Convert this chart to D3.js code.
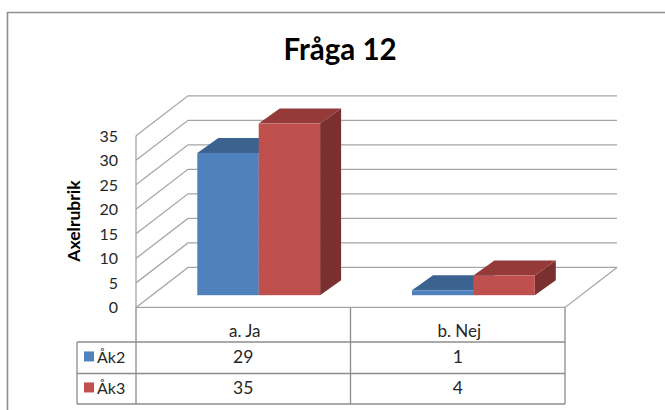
<!DOCTYPE html>
<html><head><meta charset="utf-8">
<script src="https://cdn.jsdelivr.net/npm/d3@7"></script>
<style>html,body{margin:0;padding:0;background:#fff}svg{display:block}text{font-family:Lato,"Open Sans",sans-serif}</style>
</head><body><svg id="c" width="665" height="410"></svg>
<script>
const categories = ["a. Ja", "b. Nej"];
const seriesNames = ["Åk2", "Åk3"];
const ak2 = [29, 1];
const ak3 = [35, 4];
const yTicks = [0, 5, 10, 15, 20, 25, 30, 35];
const titleText = "Fråga 12";
const axisTitle = "Axelrubrik";
const colors = [{front:"#4f81bd", top:"#3c6390", side:"#345a85"}, {front:"#c0504d", top:"#953a38", side:"#7a302e"}];
const grid = "#a6a6a6", tableLine = "#8c8c8c", ink = "#262626";

const svg = d3.select("#c");
const W = 665, H = 410;
// chart frame (left + top only; cut by the picture edge)
svg.append("path").attr("d", `M7.5,${H}V12.5H${W}`).attr("fill","none").attr("stroke","#8f8f8f").attr("stroke-width",1.6);
svg.append("text").attr("x",340).attr("y",60).attr("text-anchor","middle").attr("font-size",29.5).attr("font-weight",700).attr("fill","#000").text(titleText);

// scales
const plotL = 136, plotR = 565, depthX = 52, depthY = -40;
const y = d3.scaleLinear().domain([0,35]).range([307.4,135.8]);
const x0 = d3.scaleBand().domain(categories).range([plotL,plotR]);
const barLeft = d3.scaleOrdinal().domain(categories).range([197.3,412]);
const barW = 61.4;
const barBase = 295.2, barDX = 21, barDY = -15;
const yBar = d3.scaleLinear().domain([0,35]).range([barBase,barBase-171.6]);

// walls + gridlines
const g = svg.append("g").attr("fill","none").attr("stroke",grid).attr("stroke-width",1.3);
yTicks.forEach(t=>{
  const yy = y(t);
  g.append("path").attr("d",`M${plotL},${yy}L${plotL+depthX},${yy+depthY}H${plotR+depthX}`);
});
g.append("path").attr("d",`M${plotL},${y(35)}V${y(0)}H${plotR}L${plotR+depthX},${y(0)+depthY}`);

// y labels
svg.append("g").selectAll("text").data(yTicks).join("text")
  .attr("x",118).attr("y",d=>y(d)+6).attr("text-anchor","end").attr("font-size",16).attr("fill",ink).text(d=>d);
svg.append("text").attr("transform","translate(80,221) rotate(-90)").attr("text-anchor","middle")
  .attr("font-size",17.5).attr("font-weight",700).attr("fill","#000").text(axisTitle);

// bars
const series = [ak2, ak3];
categories.forEach((cat,ci)=>{
  series.forEach((vals,si)=>{
    const c = colors[si], l = barLeft(cat)+si*barW, r = l+barW, t = yBar(vals[ci]), b = barBase;
    const bg = svg.append("g");
    bg.append("path").attr("fill",c.side).attr("d",`M${r},${t}L${r+barDX},${t+barDY}V${b+barDY}L${r},${b}Z`);
    bg.append("path").attr("fill",c.top).attr("d",`M${l},${t}L${l+barDX},${t+barDY}H${r+barDX}L${r},${t}Z`);
    bg.append("rect").attr("x",l).attr("y",t).attr("width",barW).attr("height",b-t).attr("fill",c.front);
  });
});

// data table
const rowY = [307.4,342,373.5,404];
const legendL = 77;
const colX = categories.map(c=>x0(c)).concat(plotR);
const tg = svg.append("g").attr("fill","none").attr("stroke",tableLine).attr("stroke-width",1.3);
tg.append("path").attr("d",`M${plotL},${rowY[0]}V${rowY[3]}`);
colX.slice(1).forEach(cx=>tg.append("path").attr("d",`M${cx},${rowY[0]}V${rowY[3]}`));
tg.append("path").attr("d",`M${legendL},${rowY[1]}H${plotR}`);
tg.append("path").attr("d",`M${legendL},${rowY[2]}H${plotR}`);
tg.append("path").attr("d",`M${legendL},${rowY[3]}H${plotR}`);
tg.append("path").attr("d",`M${legendL},${rowY[1]}V${rowY[3]}`);

svg.append("g").selectAll("text").data(categories).join("text")
  .attr("x",d=>x0(d)+x0.bandwidth()/2+1.5).attr("y",337).attr("text-anchor","middle").attr("font-size",17).attr("fill",ink).text(d=>d);
series.forEach((vals,si)=>{
  const cy = (rowY[si+1]+rowY[si+2])/2;
  svg.append("rect").attr("x",84).attr("y",cy-6.3).attr("width",10).attr("height",10).attr("fill",colors[si].front);
  svg.append("text").attr("x",97).attr("y",cy+5.3).attr("font-size",16).attr("fill",ink).text(seriesNames[si]);
  svg.append("g").selectAll("text").data(vals).join("text")
    .attr("x",(d,i)=>x0(categories[i])+x0.bandwidth()/2).attr("y",cy+5.6).attr("text-anchor","middle").attr("font-size",17.5).attr("fill",ink).text(d=>d);
});
</script></body></html>
